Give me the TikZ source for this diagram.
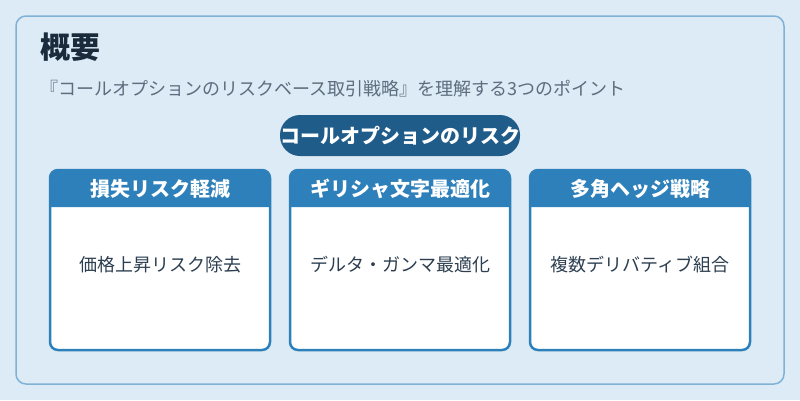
\documentclass[tikz,border=0pt]{standalone}
\usepackage{fontspec}
\setmainfont{Noto Sans CJK JP}
\usetikzlibrary{positioning}
\definecolor{bgblue}{HTML}{DDEBF6}
\definecolor{frameblue}{HTML}{7FB2D6}
\definecolor{cardblue}{HTML}{2E80BA}
\definecolor{pillblue}{HTML}{1F5C8A}
\definecolor{titlec}{HTML}{1A2B3C}
\definecolor{subc}{HTML}{5D6D7E}
\definecolor{bodyc}{HTML}{2C3E50}

\begin{document}
\begin{tikzpicture}[
  x=1pt,y=-1pt,
  outerbox/.style={draw=frameblue,line width=1.5pt,fill=bgblue,rounded corners=10pt},
  ttl/.style={anchor=west,inner sep=0,text=titlec,font=\fontsize{30}{34}\selectfont\bfseries},
  subttl/.style={anchor=west,inner sep=0,text=subc,font=\fontsize{18}{21}\selectfont},
  pill/.style={fill=pillblue,text=white,rounded corners=20pt,minimum width=240pt,minimum height=41pt,inner sep=0,font=\fontsize{20}{23}\selectfont\bfseries},
  card/.style={fill=white,minimum width=220pt,minimum height=180pt,inner sep=0,outer sep=0,rounded corners=8pt},
  cardedge/.style={draw=cardblue,line width=2.5pt,rounded corners=8pt},
  hd/.style={text=white,inner sep=0,font=\fontsize{20}{23}\selectfont\bfseries},
  bd/.style={text=bodyc,inner sep=0,font=\fontsize{18}{21}\selectfont}
]
\fill[bgblue] (0,0) rectangle (800,400);
\useasboundingbox (0,0) rectangle (800,400);
\draw[outerbox] (16,16) rectangle (784,384);

\node[ttl] (title) at (40,47) {概要};
\node[subttl] (sub) at (40,89) {『コールオプションのリスクベース取引戦略』を理解する3つのポイント};
\node[pill] (call) at (400,135.5) {コールオプションのリスク};

% three cards
\foreach \i/\x/\head/\txt in {1/160/損失リスク軽減/価格上昇リスク除去,
    2/400/ギリシャ文字最適化/デルタ・ガンマ最適化,
    3/640/多角ヘッジ戦略/複数デリバティブ組合}{
  \node[card] (c\i) at (\x,260) {};
  \fill[cardblue] ([yshift=-37pt]c\i.north west) [rounded corners=8pt] -- (c\i.north west)
    -- (c\i.north east) [sharp corners] -- ([yshift=-37pt]c\i.north east) -- cycle;
  \draw[cardedge] (c\i.north west) rectangle (c\i.south east);
  \node[hd] (h\i) at ([yshift=-18.5pt]c\i.north) {\head};
  \node[bd] (b\i) at ([yshift=-5pt]c\i.center) {\txt};
}
\end{tikzpicture}
\end{document}
